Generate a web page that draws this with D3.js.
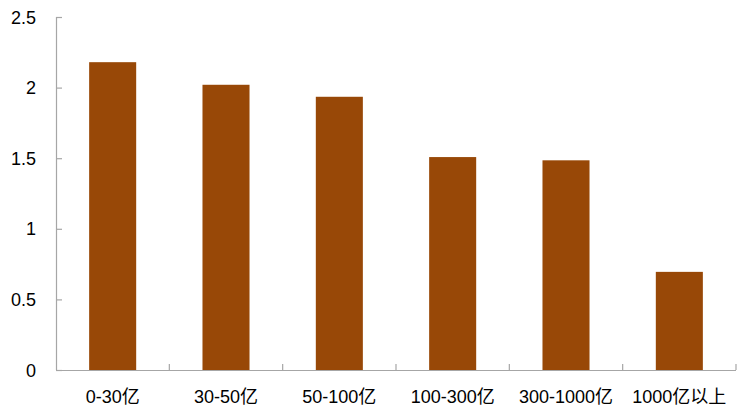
<!DOCTYPE html>
<html>
<head>
<meta charset="utf-8">
<script src="https://cdn.jsdelivr.net/npm/d3@7"></script>
<style>
  body { margin: 0; background: #fff; }
  text { font-family: "Liberation Sans", Arial, "Noto Sans CJK SC", sans-serif; }
</style>
</head>
<body>
<svg id="chart" width="744" height="411"></svg>
<script>
let categories = ["0-30亿", "30-50亿", "50-100亿", "100-300亿", "300-1000亿", "1000亿以上"];
let values = [2.18, 2.02, 1.935, 1.508, 1.485, 0.695];
let yTicks = [0, 0.5, 1, 1.5, 2, 2.5];

let svg = d3.select("#chart");
let plotLeft = 56, plotRight = 736, plotTop = 17, plotBottom = 370;
let axisColor = "#a6a6a6";
let barColor = "#984807";

let x = d3.scaleBand()
    .domain(categories)
    .range([plotLeft, plotRight])
    .paddingInner(0.585)
    .paddingOuter(0.2925);

let y = d3.scaleLinear().domain([0, 2.5]).range([plotBottom, plotTop]);

// bars
svg.selectAll("rect.bar")
    .data(values)
    .enter()
    .append("rect")
    .attr("class", "bar")
    .attr("x", (d, i) => x(categories[i]))
    .attr("y", d => y(d))
    .attr("width", x.bandwidth())
    .attr("height", d => y(0) - y(d))
    .attr("fill", barColor);

// y axis
svg.append("line")
    .attr("x1", plotLeft + 0.5).attr("x2", plotLeft + 0.5)
    .attr("y1", y(2.5)).attr("y2", plotBottom)
    .attr("stroke", axisColor).attr("stroke-width", 1.2);

for (let t of yTicks) {
    svg.append("line")
        .attr("x1", plotLeft).attr("x2", plotLeft + 6)
        .attr("y1", y(t) + 0.5).attr("y2", y(t) + 0.5)
        .attr("stroke", axisColor).attr("stroke-width", 1.2);
    svg.append("text")
        .attr("x", 36)
        .attr("y", y(t) + 6.5)
        .attr("text-anchor", "end")
        .attr("font-size", 18)
        .attr("fill", "#000")
        .text(t);
}

// x axis
svg.append("line")
    .attr("x1", plotLeft).attr("x2", plotRight)
    .attr("y1", plotBottom + 0.5).attr("y2", plotBottom + 0.5)
    .attr("stroke", axisColor).attr("stroke-width", 1.2);

let step = x.step();
let boundaries = d3.range(categories.length + 1).map(i => plotLeft + i * step);
for (let b of boundaries.slice(1)) {
    svg.append("line")
        .attr("x1", b).attr("x2", b)
        .attr("y1", plotBottom).attr("y2", plotBottom - 6)
        .attr("stroke", axisColor).attr("stroke-width", 1.2);
}

svg.selectAll("text.cat")
    .data(categories)
    .enter()
    .append("text")
    .attr("class", "cat")
    .attr("x", d => x(d) + x.bandwidth() / 2)
    .attr("y", 403)
    .attr("text-anchor", "middle")
    .attr("font-size", 18)
    .attr("fill", "#000")
    .text(d => d);
</script>
</body>
</html>
